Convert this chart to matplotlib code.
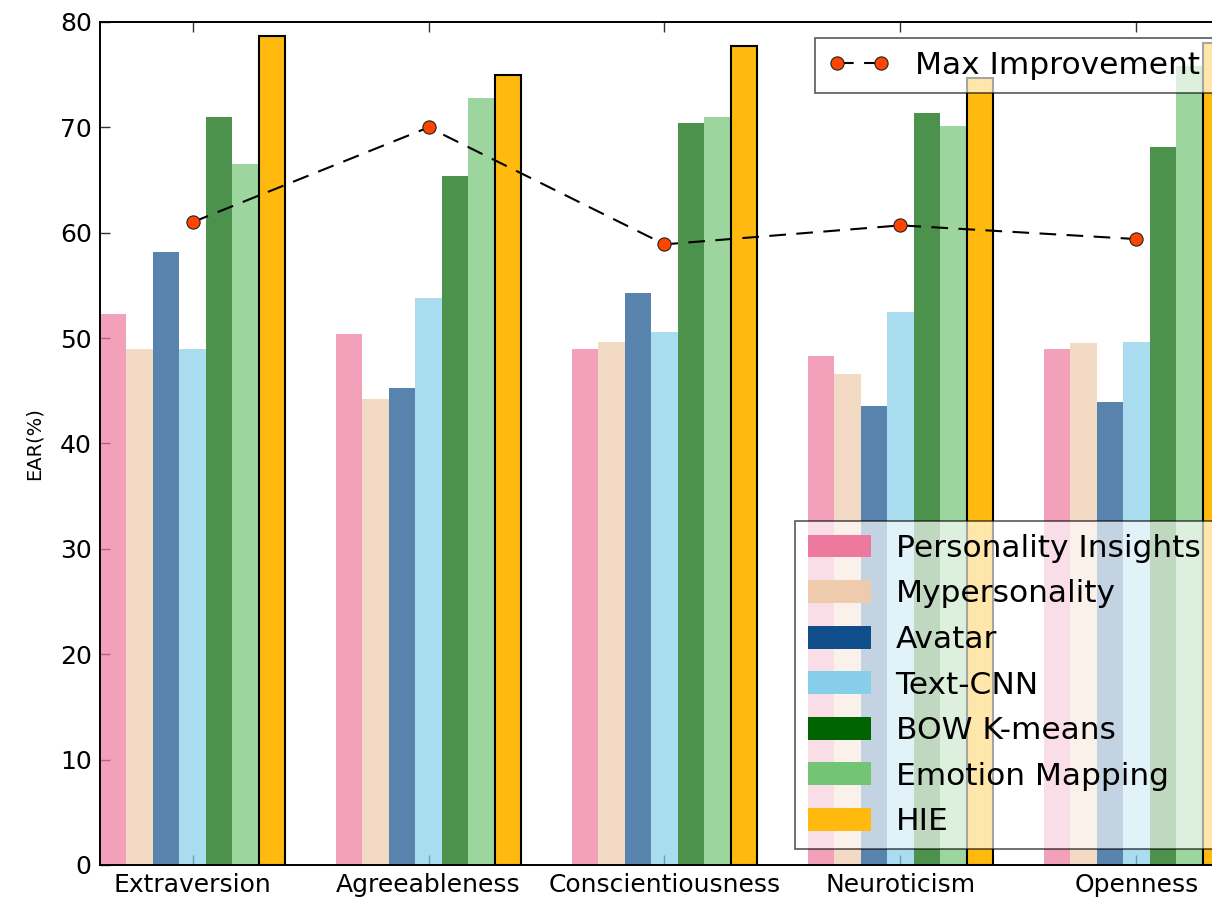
import numpy as np
import matplotlib
matplotlib.use("Agg")
import matplotlib.pyplot as plt
from matplotlib.patches import Patch

# Big Five traits and EAR (%) of each method
traits = ["Extraversion", "Agreeableness", "Conscientiousness", "Neuroticism", "Openness"]

methods = ["Personality Insights", "Mypersonality", "Avatar", "Text-CNN",
           "BOW K-means", "Emotion Mapping", "HIE"]

personality_insights = [52.3, 50.4, 49.0, 48.3, 49.0]
mypersonality = [49.0, 44.2, 49.6, 46.6, 49.5]
avatar = [58.2, 45.3, 54.3, 43.6, 43.9]
text_cnn = [49.0, 53.8, 50.6, 52.5, 49.6]
bow_kmeans = [71.0, 65.4, 70.4, 71.4, 68.1]
emotion_mapping = [66.5, 72.8, 71.0, 70.1, 75.8]
hie = [78.7, 75.0, 77.7, 74.7, 78.0]

max_improvement = [61.0, 70.0, 58.9, 60.7, 59.4]

colors = ["#EE799F", "#EECBAD", "#104E8B", "#87CEEB", "#006400", "#74C476", "#FFB90F"]

series = [personality_insights, mypersonality, avatar, text_cnn,
          bow_kmeans, emotion_mapping, hie]

W, H, DPI = 1212, 901, 100
fig = plt.figure(figsize=(W / DPI, H / DPI), dpi=DPI)
ax = fig.add_axes([100 / W, 36 / H, 1129 / W, 843 / H])

ind = np.arange(len(traits))
width = 0.112
n = len(series)
for i, (vals, col) in enumerate(zip(series, colors)):
    pos = ind + (i - (n - 1) / 2) * width
    if methods[i] == "HIE":
        ax.bar(pos, vals, width, color=col, edgecolor="black", linewidth=1.5, zorder=2)
    else:
        ax.bar(pos, vals, width, color=col, alpha=0.7, linewidth=0, zorder=2)

line, = ax.plot(ind, max_improvement, linestyle="--", dashes=(8, 5), color="black",
                linewidth=1.5, marker="o", markersize=9.5, markerfacecolor="#FF4500",
                markeredgecolor="#202020", markeredgewidth=0.8, zorder=3,
                label="Max Improvement")

ax.set_xlim(-n / 2 * width, ind[-1] + n / 2 * width)
ax.set_ylim(0, 80)
ax.set_yticks(np.arange(0, 81, 10))
ax.set_xticks(ind)
ax.set_xticklabels(traits)
ax.set_ylabel("EAR(%)", fontsize=14, labelpad=12)

ax.tick_params(axis="both", direction="in", length=7, width=1, top=True, right=True,
               labelsize=18, pad=6, color="#333333")
for sp in ax.spines.values():
    sp.set_linewidth(1.4)
    sp.set_color("black")

leg_kw = dict(fontsize=22.5, frameon=True, fancybox=False, framealpha=0.65,
              edgecolor="black", borderpad=0.42, handlelength=2.0,
              handletextpad=0.8, borderaxespad=0.5)

leg1 = ax.legend(handles=[line], loc="upper right", numpoints=2, **leg_kw)
leg1.get_frame().set_linewidth(1.2)
ax.add_artist(leg1)

handles = [Patch(facecolor=c, edgecolor="none", label=m) for c, m in zip(colors, methods)]
leg2 = ax.legend(handles=handles, loc="lower right", labelspacing=0.53,
                 handleheight=0.75, **leg_kw)
leg2.get_frame().set_linewidth(1.2)

fig.savefig("out.png", dpi=DPI)
